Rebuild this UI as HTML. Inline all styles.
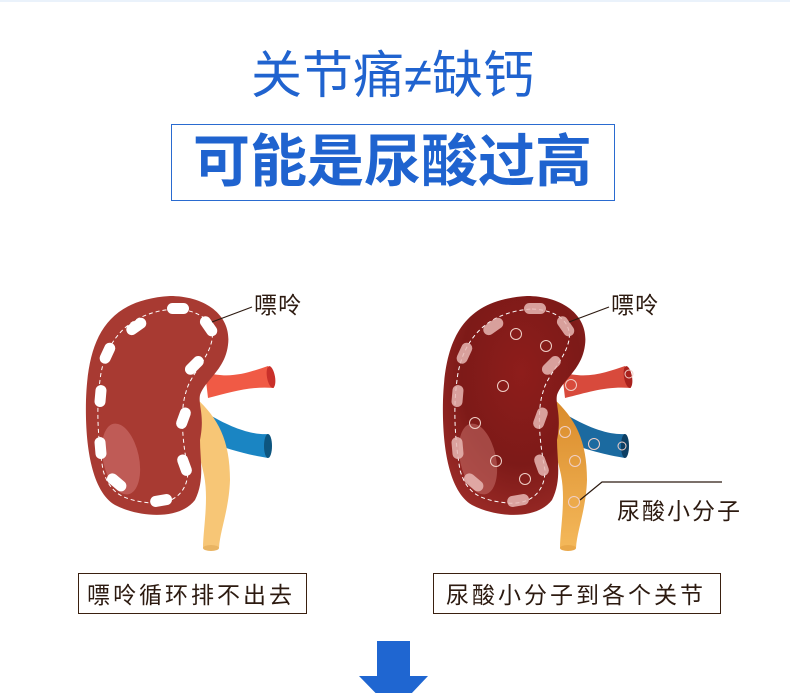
<!DOCTYPE html>
<html><head><meta charset="utf-8"><style>
html,body{margin:0;padding:0;background:#fff;}
body{width:790px;height:693px;position:relative;overflow:hidden;font-family:"Liberation Sans","Noto Sans CJK SC",sans-serif;}
.t{position:absolute;white-space:nowrap;}
</style></head><body>
<div style="position:absolute;left:0;top:0;width:790px;height:2px;background:#eaf2fb"></div>
<div class="t" style="left:251px;top:46px;font-size:51px;color:#2063cf;line-height:60px;">关节痛≠缺钙</div>
<div style="position:absolute;left:171px;top:124px;width:442px;height:75px;border:1.5px solid #2a6bd0"></div>
<div class="t" style="left:193px;top:127px;font-size:57px;font-weight:bold;color:#1f63cf;line-height:70px">可能是尿酸过高</div>

<svg width="790" height="693" style="position:absolute;left:0;top:0">
<defs>
<radialGradient id="rk" cx="0.55" cy="0.35" r="0.7"><stop offset="0" stop-color="#8e1d1b"/><stop offset="0.6" stop-color="#7d1a18"/><stop offset="1" stop-color="#9a2a26"/></radialGradient>
<linearGradient id="ur" x1="0" y1="0" x2="0" y2="1"><stop offset="0" stop-color="#d98a2a"/><stop offset="1" stop-color="#f4b85a"/></linearGradient>
</defs>
<!-- LEFT -->
<path d="M205,372 C230,380 250,372 268,366 L274,388 C250,386 232,392 208,398 Z" fill="#f05a45"/>
<ellipse cx="271" cy="377" rx="4" ry="11" fill="#c9302a" transform="rotate(-10 271 377)"/>
<path d="M210,415 C235,430 255,435 268,434 L268,458 C250,455 228,450 205,440 Z" fill="#1a85c3"/>
<ellipse cx="268" cy="446" rx="4" ry="12" fill="#0d557f"/>
<path d="M196,398 C218,418 230,440 230,480 C229,510 220,530 219,548 L203,548 C203,530 209,500 204,475 C199,450 193,440 188,430 Z" fill="#f7c676"/>
<ellipse cx="211" cy="548" rx="8" ry="3" fill="#e9b462"/>
<path d="M170,296 C205,296 232,315 228,345 C225,370 205,380 200,395 C198,405 205,415 200,440 C200,460 205,480 195,500 C180,520 140,518 115,505 C90,490 85,440 86,400 C88,340 105,300 170,296 Z" fill="#a83a32"/>
<ellipse cx="121" cy="459" rx="18" ry="36" fill="#c96a65" opacity="0.7" transform="rotate(-12 121 459)"/>
<path d="M175,309 C200,310 215,322 212,340 C208,360 190,375 186,392 C180,410 182,440 188,470 C188,495 170,505 150,503 C125,500 110,495 103,470 C98,440 96,410 100,380 C104,345 125,312 175,309 Z" fill="none" stroke="#fff" stroke-width="1" stroke-dasharray="4,3"/>
<g fill="#fff">
<rect x="167" y="303" width="22" height="11" rx="5.5"/>
<rect x="125" y="321" width="22" height="11" rx="5.5" transform="rotate(-35 136 326)"/>
<rect x="198" y="321" width="22" height="11" rx="5.5" transform="rotate(55 209 326)"/>
<rect x="96" y="348" width="22" height="11" rx="5.5" transform="rotate(-65 107 353)"/>
<rect x="183" y="360" width="22" height="11" rx="5.5" transform="rotate(-45 194 365)"/>
<rect x="89" y="391" width="22" height="11" rx="5.5" transform="rotate(-85 100 396)"/>
<rect x="172" y="413" width="22" height="11" rx="5.5" transform="rotate(-70 183 418)"/>
<rect x="90" y="443" width="22" height="11" rx="5.5" transform="rotate(85 101 448)"/>
<rect x="174" y="460" width="22" height="11" rx="5.5" transform="rotate(70 185 465)"/>
<rect x="106" y="477" width="22" height="11" rx="5.5" transform="rotate(40 117 482)"/>
<rect x="150" y="495" width="22" height="11" rx="5.5" transform="rotate(-10 161 500)"/>
</g>
<line x1="212" y1="322" x2="252" y2="307" stroke="#2c1a10" stroke-width="1.2"/>

<!-- RIGHT -->
<g transform="translate(357,0)">
<path d="M205,372 C230,380 250,372 268,366 L274,388 C250,386 232,392 208,398 Z" fill="#d84a3c"/>
<ellipse cx="271" cy="377" rx="4" ry="11" fill="#a9211d" transform="rotate(-10 271 377)"/>
<path d="M210,415 C235,430 255,435 268,434 L268,458 C250,455 228,450 205,440 Z" fill="#1b6aa0"/>
<ellipse cx="268" cy="446" rx="4" ry="12" fill="#0d3f63"/>
<path d="M196,398 C218,418 230,440 230,480 C229,510 220,530 219,548 L203,548 C203,530 209,500 204,475 C199,450 193,440 188,430 Z" fill="url(#ur)"/>
<ellipse cx="211" cy="548" rx="8" ry="3" fill="#e9a84a"/>
<path d="M170,296 C205,296 232,315 228,345 C225,370 205,380 200,395 C198,405 205,415 200,440 C200,460 205,480 195,500 C180,520 140,518 115,505 C90,490 85,440 86,400 C88,340 105,300 170,296 Z" fill="url(#rk)"/>
<ellipse cx="121" cy="459" rx="18" ry="36" fill="#c06862" opacity="0.6" transform="rotate(-12 121 459)"/>
<path d="M175,309 C200,310 215,322 212,340 C208,360 190,375 186,392 C180,410 182,440 188,470 C188,495 170,505 150,503 C125,500 110,495 103,470 C98,440 96,410 100,380 C104,345 125,312 175,309 Z" fill="none" stroke="#fff" stroke-width="1" stroke-dasharray="4,3"/>
<g fill="#e8b8b4" opacity="0.85">
<rect x="167" y="303" width="22" height="11" rx="5.5"/>
<rect x="125" y="321" width="22" height="11" rx="5.5" transform="rotate(-35 136 326)"/>
<rect x="198" y="321" width="22" height="11" rx="5.5" transform="rotate(55 209 326)"/>
<rect x="96" y="348" width="22" height="11" rx="5.5" transform="rotate(-65 107 353)"/>
<rect x="183" y="360" width="22" height="11" rx="5.5" transform="rotate(-45 194 365)"/>
<rect x="89" y="391" width="22" height="11" rx="5.5" transform="rotate(-85 100 396)"/>
<rect x="172" y="413" width="22" height="11" rx="5.5" transform="rotate(-70 183 418)"/>
<rect x="90" y="443" width="22" height="11" rx="5.5" transform="rotate(85 101 448)"/>
<rect x="174" y="460" width="22" height="11" rx="5.5" transform="rotate(70 185 465)"/>
<rect x="106" y="477" width="22" height="11" rx="5.5" transform="rotate(40 117 482)"/>
<rect x="150" y="495" width="22" height="11" rx="5.5" transform="rotate(-10 161 500)"/>
</g>
<g fill="none" stroke="#f0d0c8" stroke-width="1">
<circle cx="159" cy="334" r="5.5"/><circle cx="189" cy="346" r="5.5"/><circle cx="146" cy="386" r="5.5"/>
<circle cx="118" cy="423" r="5.5"/><circle cx="139" cy="461" r="5.5"/><circle cx="168" cy="479" r="5.5"/>
<circle cx="214" cy="385" r="5.5"/><circle cx="208" cy="432" r="5.5"/><circle cx="218" cy="461" r="5.5"/>
<circle cx="217" cy="502" r="5.5"/><circle cx="237" cy="444" r="5.5"/><circle cx="265" cy="446" r="4"/>
<circle cx="272" cy="374" r="4"/>
</g>
<line x1="212" y1="322" x2="252" y2="307" stroke="#2c1a10" stroke-width="1.2"/>
<polyline points="223,500 245,482 365,482" fill="none" stroke="#2c1a10" stroke-width="1.2"/>
</g>
<polygon points="377,641 410,641 410,676 428,676 394,712 359,676 377,676" fill="#1f66d1"/>
</svg>

<div class="t" style="left:254px;top:291px;font-size:23px;color:#2c1a10;line-height:28px;letter-spacing:1px">嘌呤</div>
<div class="t" style="left:611px;top:291px;font-size:23px;color:#2c1a10;line-height:28px;letter-spacing:1px">嘌呤</div>
<div class="t" style="left:617px;top:497px;font-size:23px;color:#2c1a10;line-height:28px;letter-spacing:2px">尿酸小分子</div>
<div style="position:absolute;left:78px;top:573px;width:227px;height:39px;border:1.5px solid #3a2010"></div>
<div class="t" style="left:87px;top:581px;font-size:23px;color:#2c1a10;line-height:28px;letter-spacing:3px">嘌呤循环排不出去</div>
<div style="position:absolute;left:433px;top:573px;width:286px;height:39px;border:1.5px solid #3a2010"></div>
<div class="t" style="left:446px;top:581px;font-size:23px;color:#2c1a10;line-height:28px;letter-spacing:3px">尿酸小分子到各个关节</div>
</body></html>
